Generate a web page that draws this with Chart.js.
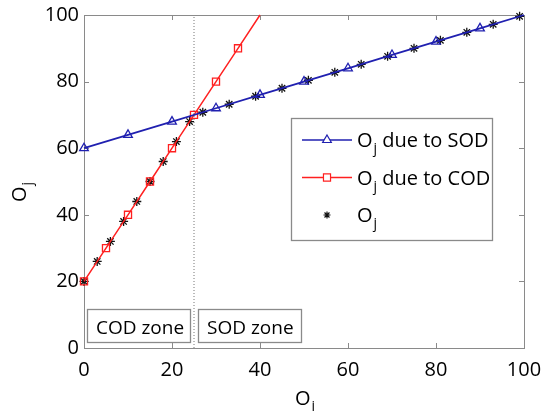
<!DOCTYPE html>
<html>
<head>
<meta charset="utf-8">
<script src="https://cdn.jsdelivr.net/npm/chart.js@4.4.1/dist/chart.umd.min.js"></script>
<style>
  html, body { margin: 0; padding: 0; background: #fff; }
  #wrap { width: 544px; height: 414px; position: relative; }
</style>
</head>
<body>
<div id="wrap"><canvas id="chart"></canvas></div>
<script>
// O_j due to SOD (blue triangles)
const sodX = [0, 10, 20, 30, 40, 50, 60, 70, 80, 90, 100];
const sodY = [60, 64, 68, 72, 76, 80, 84, 88, 92, 96, 100];
// O_j due to COD (red squares)
const codX = [0, 5, 10, 15, 20, 25, 30, 35, 40];
const codY = [20, 30, 40, 50, 60, 70, 80, 90, 100];
// O_j (black stars)
const ojX = [0, 3, 6, 9, 12, 15, 18, 21, 24, 27, 33, 39, 45, 51, 57, 63, 69, 75, 81, 87, 93, 99];
const ojY = [20, 26, 32, 38, 44, 50, 56, 62, 68, 70.8, 73.2, 75.6, 78, 80.4, 82.8, 85.2, 87.6, 90, 92.4, 94.8, 97.2, 99.6];
// border between COD zone and SOD zone
const zoneX = [25, 25];
const zoneY = [0, 100];

const xTicks = [0, 20, 40, 60, 80, 100];
const yTicks = [0, 20, 40, 60, 80, 100];

const BLUE = '#2020b0';
const RED = '#ff2020';
const STAR = '#111';
const FRAME = '#8a8a8a';
const FONT = '"Open Sans", sans-serif';

function pts(xs, ys) {
    return xs.map((x, i) => ({ x: x, y: ys[i] }));
}

// Draws "O" with a subscript, then the rest of the text
function subText(ctx, x, y, sub, rest) {
    ctx.font = '20px ' + FONT;
    ctx.fillText('O', x, y);
    let w = ctx.measureText('O').width;
    ctx.font = '14px ' + FONT;
    ctx.fillText(sub, x + w + 1, y + 6);
    w += ctx.measureText(sub).width + 1;
    if (rest) {
        ctx.font = '20px ' + FONT;
        ctx.fillText(rest, x + w, y);
    }
}

const decor = {
    id: 'decor',
    beforeDatasetsDraw(chart) {
        const { ctx, chartArea: a, scales } = chart;
        ctx.save();
        ctx.strokeStyle = FRAME;
        ctx.lineWidth = 1;
        ctx.strokeRect(a.left + 0.5, a.top + 0.5, a.right - a.left, a.bottom - a.top);
        // MATLAB style ticks pointing inwards
        ctx.beginPath();
        xTicks.forEach(v => {
            const px = Math.round(scales.x.getPixelForValue(v)) + 0.5;
            ctx.moveTo(px, a.bottom); ctx.lineTo(px, a.bottom - 5);
            ctx.moveTo(px, a.top); ctx.lineTo(px, a.top + 5);
        });
        yTicks.forEach(v => {
            const py = Math.round(scales.y.getPixelForValue(v)) + 0.5;
            ctx.moveTo(a.left, py); ctx.lineTo(a.left + 5, py);
            ctx.moveTo(a.right, py); ctx.lineTo(a.right - 5, py);
        });
        ctx.stroke();
        ctx.restore();
    },
    afterDatasetsDraw(chart) {
        const { ctx, chartArea: a } = chart;
        ctx.save();
        ctx.fillStyle = '#000';
        ctx.textBaseline = 'alphabetic';

        // zone labels
        [['COD zone', a.left + 3], ['SOD zone', a.left + 114]].forEach(z => {
            ctx.fillStyle = '#fff';
            ctx.fillRect(z[1] + 0.5, a.bottom - 38.5, 103, 33);
            ctx.strokeStyle = FRAME;
            ctx.strokeRect(z[1] + 0.5, a.bottom - 38.5, 103, 33);
            ctx.fillStyle = '#000';
            ctx.font = '19px ' + FONT;
            ctx.fillText(z[0], z[1] + 9, a.bottom - 14);
        });

        // legend
        const lx = 291, ly = 118;
        ctx.fillStyle = '#fff';
        ctx.fillRect(lx + 0.5, ly + 0.5, 201, 122);
        ctx.strokeStyle = FRAME;
        ctx.strokeRect(lx + 0.5, ly + 0.5, 201, 122);
        const rows = [
            { color: BLUE, style: 'triangle', r: 5, line: true, text: ' due to SOD' },
            { color: RED, style: 'rect', r: 5, line: true, text: ' due to COD' },
            { color: STAR, style: 'star', r: 3.5, line: false, text: '' }
        ];
        rows.forEach((row, i) => {
            const cy = ly + 22 + i * 37.5;
            ctx.strokeStyle = row.color;
            ctx.lineWidth = 1.5;
            if (row.line) {
                ctx.beginPath();
                ctx.moveTo(lx + 11, cy); ctx.lineTo(lx + 61, cy);
                ctx.stroke();
            }
            ctx.fillStyle = '#fff';
            ctx.lineWidth = 1.2;
            Chart.helpers.drawPoint(ctx, { pointStyle: row.style, radius: row.r, rotation: 0, borderWidth: 1.2 }, lx + 36, cy);
            ctx.fillStyle = '#000';
            subText(ctx, lx + 66, cy + 7, 'j', row.text);
        });

        // axis titles
        ctx.fillStyle = '#000';
        subText(ctx, (a.left + a.right) / 2 - 9, 405, 'i', '');
        ctx.translate(26, 202);
        ctx.rotate(-Math.PI / 2);
        subText(ctx, 0, 0, 'j', '');
        ctx.restore();
    }
};

const ctx = document.getElementById('chart').getContext('2d');

const chart = new Chart(ctx, {
    type: 'scatter',
    data: {
        datasets: [
            {
                data: pts(zoneX, zoneY),
                showLine: true,
                borderColor: '#777',
                borderWidth: 1,
                borderDash: [1, 2],
                pointRadius: 0
            },
            {
                data: pts(sodX, sodY),
                showLine: true,
                borderColor: BLUE,
                borderWidth: 1.8,
                pointStyle: 'triangle',
                pointRadius: sodX.map(v => v === 100 ? 0 : 5),
                pointBorderWidth: 1.3,
                pointBorderColor: BLUE,
                pointBackgroundColor: 'rgba(0,0,0,0)',
                clip: false
            },
            {
                data: pts(codX, codY),
                showLine: true,
                borderColor: RED,
                borderWidth: 1.5,
                pointStyle: 'rect',
                pointRadius: codX.map(v => v === 40 ? 0 : 5),
                pointBorderWidth: 1.3,
                pointBorderColor: RED,
                pointBackgroundColor: 'rgba(0,0,0,0)',
                clip: false
            },
            {
                data: pts(ojX, ojY),
                showLine: false,
                pointStyle: 'star',
                pointRadius: 4.5,
                pointBorderWidth: 1.3,
                pointBorderColor: STAR,
                clip: false
            }
        ]
    },
    options: {
        animation: false,
        responsive: true,
        maintainAspectRatio: false,
        layout: { padding: { left: 0, right: 20, top: 15, bottom: 0 } },
        plugins: {
            legend: { display: false },
            tooltip: { enabled: false }
        },
        elements: { line: { tension: 0 } },
        scales: {
            x: {
                type: 'linear',
                min: 0,
                max: 100,
                afterBuildTicks: s => { s.ticks = xTicks.map(v => ({ value: v })); },
                afterFit: s => { s.height = 66; s.paddingLeft = 0; s.paddingRight = 0; },
                grid: { display: false, drawTicks: false },
                border: { display: false },
                ticks: { color: '#000', padding: 10, maxRotation: 0, font: { family: FONT, size: 20 } }
            },
            y: {
                type: 'linear',
                min: 0,
                max: 100,
                afterBuildTicks: s => { s.ticks = yTicks.map(v => ({ value: v })); },
                afterFit: s => { s.width = 84; s.paddingTop = 0; s.paddingBottom = 0; },
                grid: { display: false, drawTicks: false },
                border: { display: false },
                ticks: { color: '#000', padding: 5, font: { family: FONT, size: 20 } }
            }
        }
    },
    plugins: [decor]
});
</script>
</body>
</html>
